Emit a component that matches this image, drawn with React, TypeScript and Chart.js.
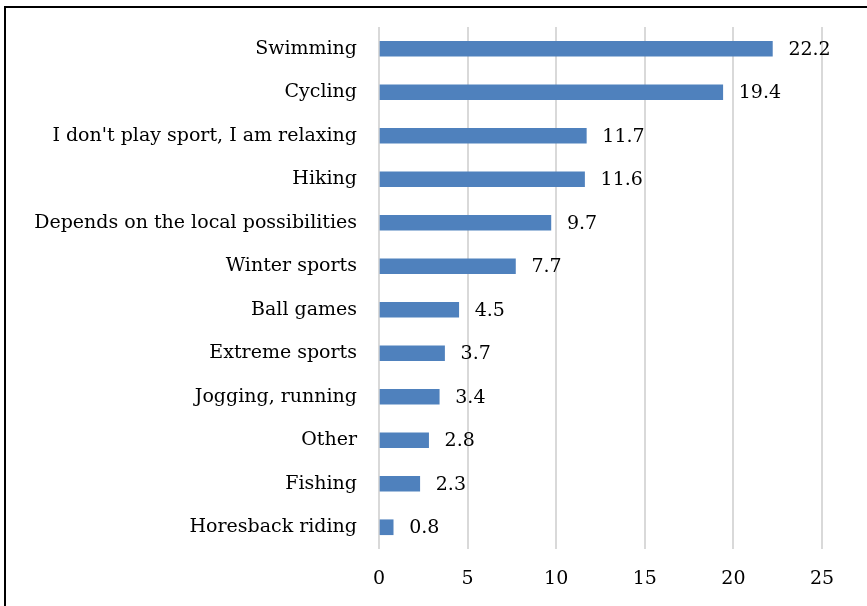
import React, { useEffect, useRef } from "react";
import { Chart, registerables } from "chart.js";

Chart.register(...registerables);

const categories = [
  "Swimming",
  "Cycling",
  "I don't play sport, I am relaxing",
  "Hiking",
  "Depends on the local possibilities",
  "Winter sports",
  "Ball games",
  "Extreme sports",
  "Jogging, running",
  "Other",
  "Fishing",
  "Horesback riding",
];
const values = [22.2, 19.4, 11.7, 11.6, 9.7, 7.7, 4.5, 3.7, 3.4, 2.8, 2.3, 0.8];
const xTicks = [0, 5, 10, 15, 20, 25];

const FONT = "'DejaVu Serif', serif";
const FSIZE = 19;

const valueLabels = {
  id: "valueLabels",
  afterDatasetsDraw(chart: any) {
    const ctx = chart.ctx;
    const meta = chart.getDatasetMeta(0);
    ctx.save();
    ctx.font = `${FSIZE}px ${FONT}`;
    ctx.fillStyle = "#000";
    ctx.textAlign = "left";
    ctx.textBaseline = "middle";
    meta.data.forEach((bar: any, i: number) => {
      ctx.fillText(String(values[i]), bar.x + 16, bar.y + 1);
    });
    ctx.restore();
  },
};

export default function App() {
  const ref = useRef<HTMLCanvasElement>(null);
  useEffect(() => {
    document.body.style.margin = "0";
    const chart = new Chart(ref.current!, {
      type: "bar",
      data: {
        labels: categories,
        datasets: [
          {
            data: values,
            backgroundColor: "#4f81bd",
            barThickness: 15,
          },
        ],
      },
      options: {
        animation: false,
        responsive: false,
        indexAxis: "y",
        layout: { padding: { top: 27, right: 45, bottom: 0, left: 0 } },
        plugins: { legend: { display: false }, tooltip: { enabled: false } },
        scales: {
          x: {
            min: 0,
            max: 25,
            afterBuildTicks: (axis: any) => {
              axis.ticks = xTicks.map((v) => ({ value: v }));
            },
            afterFit: (axis: any) => {
              axis.height = 57;
              axis.paddingLeft = 0;
              axis.paddingRight = 0;
            },
            grid: { color: "#d9d9d9", lineWidth: 2, drawTicks: false },
            border: { display: false },
            ticks: { color: "#000", font: { family: FONT, size: FSIZE }, padding: 19 },
          },
          y: {
            afterFit: (axis: any) => {
              axis.width = 379;
              axis.paddingTop = 0;
              axis.paddingBottom = 0;
            },
            grid: { display: false },
            border: { display: false },
            ticks: { color: "#000", font: { family: FONT, size: FSIZE }, padding: 14 },
          },
        },
      },
      plugins: [valueLabels],
    });
    return () => chart.destroy();
  }, []);
  return (
    <div style={{ position: "relative", width: 867, height: 606, background: "#fff" }}>
      <canvas ref={ref} width={867} height={606} style={{ position: "absolute", left: 0, top: 0 }} />
      <div
        style={{
          position: "absolute",
          left: 4,
          top: 6,
          right: 0,
          bottom: 0,
          borderTop: "2px solid #000",
          borderLeft: "2px solid #000",
          pointerEvents: "none",
        }}
      />
    </div>
  );
}
